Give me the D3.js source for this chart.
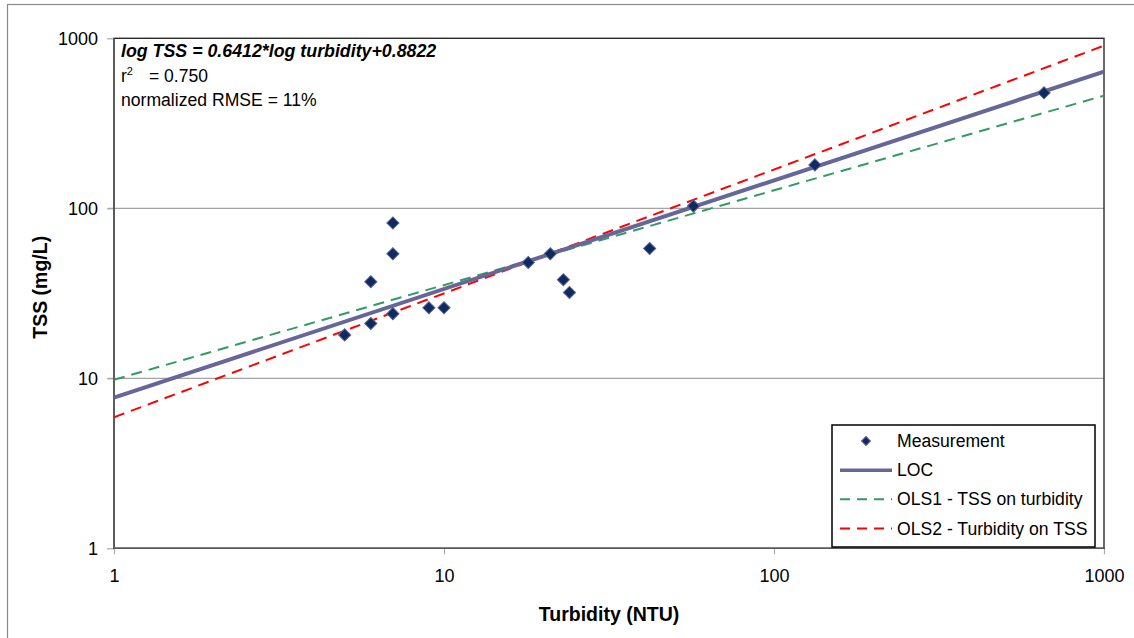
<!DOCTYPE html>
<html>
<head>
<meta charset="utf-8">
<script src="https://cdn.jsdelivr.net/npm/d3@7"></script>
<style>
  body { margin: 0; background: #fff; }
  svg { font-family: "Liberation Sans", Arial, sans-serif; }
</style>
</head>
<body>
<div id="chart"></div>
<script>
// measured points
const turbidity = [5, 6, 6, 7, 7, 7, 9, 10, 18, 21, 23, 24, 42, 57, 133, 658];
const tss = [18, 37, 21, 82, 54, 24, 26, 26, 48, 54, 38, 32, 58, 103, 180, 478];

// fitted lines, read at both ends of the x range
const lineX = [1, 1000];
const locTss = [7.7, 636];
const ols1Tss = [9.8, 460];
const ols2Tss = [5.9, 905];

const tickVals = [1, 10, 100, 1000];
const legendLabels = ['Measurement', 'LOC', 'OLS1 - TSS on turbidity', 'OLS2 - Turbidity on TSS'];
const textLines = ['log TSS = 0.6412*log turbidity+0.8822', 'normalized RMSE = 11%'];

const svg_width = 1134, svg_height = 638;
const margin = { top: 38.3, left: 114, right: 30, bottom: 89.7 };
const width = svg_width - margin.left - margin.right;
const height = svg_height - margin.top - margin.bottom;

const svg = d3.select('#chart').append('svg')
    .attr('width', svg_width).attr('height', svg_height);

// outer chart border
svg.append('rect')
    .attr('x', 7.5).attr('y', 4.5)
    .attr('width', 1140).attr('height', 640)
    .attr('fill', 'none').attr('stroke', '#8a8a8a').attr('stroke-width', 1.2);

const g = svg.append('g').attr('transform', `translate(${margin.left},${margin.top})`);

const x = d3.scaleLog().domain([1, 1000]).range([0, width]);
const y = d3.scaleLog().domain([1, 1000]).range([height, 0]);

// gridlines
g.append('g').selectAll('line').data([10, 100]).join('line')
    .attr('x1', -6).attr('x2', width)
    .attr('y1', d => y(d)).attr('y2', d => y(d))
    .attr('stroke', '#8c8c8c').attr('stroke-width', 1);

// axes
const xAxis = d3.axisBottom(x).tickValues(tickVals).tickFormat(d3.format('d')).tickSizeInner(6).tickSizeOuter(0).tickPadding(15);
const yAxis = d3.axisLeft(y).tickValues(tickVals).tickFormat(d3.format('d')).tickSizeInner(7).tickSizeOuter(0).tickPadding(9);

const xg = g.append('g').attr('transform', `translate(0,${height})`).call(xAxis);
const yg = g.append('g').call(yAxis);
[xg, yg].forEach(a => {
    a.select('.domain').remove();
    a.selectAll('.tick line').attr('stroke', '#a8a8a8').attr('stroke-width', 1.2);
    a.selectAll('.tick text').attr('fill', '#000').style('font-size', '18px');
});
xg.selectAll('.tick text').attr('dy', '0.71em');

// plot frame
g.append('rect')
    .attr('width', width).attr('height', height)
    .attr('fill', 'none').attr('stroke', '#2a2a2a').attr('stroke-width', 1.4);
g.append('line').attr('x1', 0).attr('x2', 0).attr('y1', 0).attr('y2', height)
    .attr('stroke', '#595959').attr('stroke-width', 1.6);
g.append('line').attr('x1', 0).attr('x2', width).attr('y1', height).attr('y2', height)
    .attr('stroke', '#595959').attr('stroke-width', 1.6);

// lines
g.append('clipPath').attr('id', 'clip').append('rect')
    .attr('width', width).attr('height', height);
const lineGen = d3.line().x(d => x(d[0])).y(d => y(d[1]));
const series = [
    { vals: ols1Tss, color: '#339966', w: 2, dash: '11,7' },
    { vals: ols2Tss, color: '#ff0000', w: 2, dash: '11,7' },
    { vals: locTss, color: '#666699', w: 4, dash: null }
];
const lines = g.append('g').attr('clip-path', 'url(#clip)');
series.forEach(s => {
    lines.append('path')
        .datum(lineX.map((v, i) => [v, s.vals[i]]))
        .attr('d', lineGen)
        .attr('fill', 'none')
        .attr('stroke', s.color)
        .attr('stroke-width', s.w)
        .attr('stroke-dasharray', s.dash);
});

// points
const diamond = d3.symbol().type(d3.symbolSquare).size(74);
g.append('g').selectAll('path').data(turbidity.map((t, i) => [t, tss[i]])).join('path')
    .attr('d', diamond)
    .attr('transform', d => `translate(${x(d[0])},${y(d[1])}) rotate(45)`)
    .attr('fill', '#0d2b5e').attr('stroke', '#5a5f95').attr('stroke-width', 1);

// equation text
const eq = svg.append('g').attr('transform', 'translate(121,0)');
eq.append('text').attr('y', 56.5).text(textLines[0])
    .style('font-size', '17.8px').style('font-weight', 'bold').style('font-style', 'italic');
const r2 = eq.append('text').attr('y', 82).style('font-size', '17.5px');
r2.append('tspan').text('r');
r2.append('tspan').text('2').attr('dy', -7).style('font-size', '11px');
r2.append('tspan').text('= 0.750').attr('x', 28).attr('dy', 7);
eq.append('text').attr('y', 106).text(textLines[1]).style('font-size', '17.6px');

// legend
const lg = svg.append('g').attr('transform', 'translate(832,425)');
lg.append('rect').attr('width', 263).attr('height', 122)
    .attr('fill', '#fff').attr('stroke', '#000').attr('stroke-width', 1.5);
const rowY = d3.scalePoint().domain(legendLabels).range([16, 103.5]);
lg.append('path')
    .attr('d', d3.symbol().type(d3.symbolSquare).size(40))
    .attr('transform', `translate(34,${rowY(legendLabels[0])}) rotate(45)`)
    .attr('fill', '#0d2b5e').attr('stroke', '#5a5f95').attr('stroke-width', 1);
[series[2], series[0], series[1]].forEach((s, i) => {
    lg.append('line')
        .attr('x1', 8).attr('x2', 60)
        .attr('y1', rowY(legendLabels[i + 1])).attr('y2', rowY(legendLabels[i + 1]))
        .attr('stroke', s.color).attr('stroke-width', s.w === 4 ? 3.5 : 2)
        .attr('stroke-dasharray', s.dash ? '10,7' : null);
});
lg.selectAll('text.lab').data(legendLabels).join('text')
    .attr('class', 'lab')
    .attr('x', 65).attr('y', d => rowY(d)).attr('dy', '0.35em')
    .style('font-size', '17.6px').text(d => d);

// axis titles
svg.append('text')
    .attr('x', margin.left + width / 2).attr('y', 621)
    .attr('text-anchor', 'middle')
    .style('font-size', '19.5px').style('font-weight', 'bold')
    .text('Turbidity (NTU)');
svg.append('text')
    .attr('transform', `translate(47,${margin.top + height / 2 - 6}) rotate(-90)`)
    .attr('text-anchor', 'middle')
    .style('font-size', '19.5px').style('font-weight', 'bold')
    .text('TSS (mg/L)');
</script>
</body>
</html>
